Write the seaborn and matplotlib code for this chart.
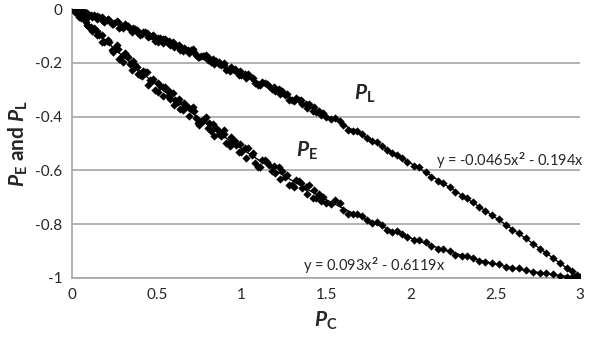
import matplotlib
matplotlib.use("Agg")
import matplotlib.pyplot as plt
import seaborn as sns
import numpy as np
import pandas as pd

# ---- data ----
pl_x = [0.02,0.04,0.06,0.08,0.10,0.13,0.16,0.19,0.22,0.25,0.28,0.31,0.34,0.37,0.40,0.43,0.46,0.49,0.52,0.55,
        0.58,0.61,0.64,0.67,0.70,0.73,0.76,0.79,0.82,0.85,0.88,0.91,0.94,0.97,1.00,1.04,1.08,1.12,1.16,1.20,
        1.24,1.28,1.32,1.36,1.40,1.44,1.48,1.53,1.58,1.63,1.68,1.74,1.80,1.86,1.92,1.98,2.05,2.12,2.19,2.26,
        2.33,2.40,2.48,2.56,2.64,2.72,2.80,2.88,2.95,3.00,
        0.015,0.035,0.055,0.075,0.095,0.115,0.145,0.175,0.205,0.235,0.265,0.295,0.325,0.355,0.385,0.415,0.445,
        0.475,0.505,0.535,0.565,0.595,0.625,0.655,0.685,0.715,0.745,0.775,0.805,0.835,0.865,0.895,0.925,0.955,
        0.985,1.02,1.06,1.10,1.14,1.18,1.22,1.26,1.30,1.34,1.38,1.42,1.46,1.50,1.55,1.60,1.66,1.71,1.77,1.83,
        1.89,1.95,2.02,2.09,2.16,2.23,2.30,2.37,2.44,2.52,2.60,2.68,2.76,2.84,2.92,2.98,
        0.01,0.05,0.09,0.12,0.15,0.18,0.21,0.24,0.27,0.30,0.33,0.36,0.39,0.42,0.45,0.48,0.51,0.54,0.57,0.60,
        0.63,0.66,0.69,0.72,0.75,0.78,0.81,0.84,0.87,0.90,0.93,0.96,0.99,1.03,1.07,1.11,1.15,1.19,1.23,1.27,
        1.31,1.35,1.39,1.43,1.47]
pl_y = [-0.003,-0.011,-0.008,-0.019,-0.026,-0.022,-0.031,-0.047,-0.039,-0.053,-0.069,-0.056,-0.075,-0.075,
        -0.095,-0.085,-0.099,-0.118,-0.108,-0.111,-0.134,-0.135,-0.152,-0.147,-0.151,-0.171,-0.176,-0.170,
        -0.197,-0.194,-0.210,-0.225,-0.215,-0.232,-0.247,-0.243,-0.275,-0.272,-0.286,-0.305,-0.304,-0.337,
        -0.331,-0.353,-0.352,-0.383,-0.388,-0.410,-0.417,-0.448,-0.454,-0.480,-0.495,-0.526,-0.541,-0.567,
        -0.589,-0.623,-0.646,-0.680,-0.702,-0.735,-0.765,-0.804,-0.834,-0.873,-0.906,-0.946,-0.976,-0.996,
        -0.005,-0.004,-0.012,-0.011,-0.023,-0.021,-0.038,-0.031,-0.041,-0.055,-0.044,-0.063,-0.062,-0.085,
        -0.079,-0.094,-0.088,-0.102,-0.122,-0.111,-0.128,-0.123,-0.139,-0.155,-0.151,-0.150,-0.179,-0.176,
        -0.191,-0.187,-0.205,-0.201,-0.225,-0.225,-0.245,-0.241,-0.257,-0.282,-0.275,-0.298,-0.297,-0.319,
        -0.339,-0.339,-0.354,-0.379,-0.379,-0.401,-0.405,-0.432,-0.452,-0.465,-0.492,-0.509,-0.537,-0.553,
        -0.583,-0.606,-0.638,-0.663,-0.694,-0.719,-0.751,-0.782,-0.820,-0.853,-0.892,-0.925,-0.964,-0.990,
        -0.001,-0.014,-0.015,-0.030,-0.025,-0.041,-0.036,-0.057,-0.050,-0.069,-0.064,-0.071,-0.091,-0.085,
        -0.105,-0.098,-0.107,-0.126,-0.120,-0.141,-0.135,-0.144,-0.164,-0.158,-0.180,-0.174,-0.183,-0.204,
        -0.198,-0.207,-0.229,-0.223,-0.232,-0.258,-0.255,-0.281,-0.278,-0.291,-0.317,-0.315,-0.343,-0.340,
        -0.368,-0.366,-0.393]
pe_x = list(pl_x)
pe_y = [-0.011,-0.028,-0.030,-0.050,-0.068,-0.072,-0.095,-0.124,-0.121,-0.149,-0.186,-0.164,-0.204,-0.209,
        -0.246,-0.234,-0.263,-0.302,-0.285,-0.289,-0.335,-0.337,-0.371,-0.362,-0.370,-0.405,-0.415,-0.402,
        -0.453,-0.443,-0.472,-0.499,-0.477,-0.506,-0.531,-0.518,-0.572,-0.562,-0.581,-0.610,-0.602,-0.654,
        -0.635,-0.665,-0.654,-0.701,-0.700,-0.726,-0.723,-0.764,-0.762,-0.786,-0.792,-0.823,-0.827,-0.849,
        -0.858,-0.883,-0.891,-0.913,-0.917,-0.936,-0.944,-0.961,-0.964,-0.978,-0.982,-0.994,-0.995,-1.000,
        -0.011,-0.017,-0.034,-0.039,-0.062,-0.065,-0.097,-0.097,-0.120,-0.151,-0.132,-0.176,-0.176,-0.228,
        -0.215,-0.248,-0.236,-0.268,-0.310,-0.289,-0.323,-0.311,-0.347,-0.377,-0.366,-0.364,-0.422,-0.415,
        -0.443,-0.429,-0.465,-0.451,-0.499,-0.493,-0.533,-0.516,-0.543,-0.587,-0.563,-0.601,-0.589,-0.625,
        -0.655,-0.641,-0.662,-0.704,-0.688,-0.720,-0.709,-0.747,-0.763,-0.768,-0.797,-0.804,-0.831,-0.837,
        -0.859,-0.868,-0.892,-0.900,-0.918,-0.924,-0.941,-0.948,-0.963,-0.970,-0.983,-0.987,-0.996,-0.997,
        -0.004,-0.026,-0.060,-0.082,-0.081,-0.121,-0.115,-0.160,-0.150,-0.197,-0.180,-0.193,-0.241,-0.229,
        -0.281,-0.262,-0.276,-0.324,-0.306,-0.357,-0.336,-0.351,-0.399,-0.381,-0.430,-0.409,-0.422,-0.471,
        -0.452,-0.463,-0.511,-0.490,-0.502,-0.553,-0.536,-0.586,-0.568,-0.584,-0.633,-0.616,-0.661,-0.646,
        -0.689,-0.673,-0.714]

# trendline coefficients shown on the chart (a*x^2 + b*x)
pl_coef = [-0.0465, -0.194]
pe_coef = [0.093, -0.6119]

x_ticks = [0, 0.5, 1, 1.5, 2, 2.5, 3]
x_tick_labels = ["0", "0.5", "1", "1.5", "2", "2.5", "3"]
y_ticks = [0, -0.2, -0.4, -0.6, -0.8, -1]
y_tick_labels = ["0", "-0.2", "-0.4", "-0.6", "-0.8", "-1"]

# ---- style ----
sns.set_style("white")
plt.rcParams["font.family"] = ["Lato", "DejaVu Sans"]
plt.rcParams["mathtext.fontset"] = "custom"
plt.rcParams["mathtext.it"] = "Lato:italic:bold"
plt.rcParams["mathtext.rm"] = "Lato:bold"
plt.rcParams["mathtext.bf"] = "Lato:bold"

fig = plt.figure(figsize=(6.0, 3.47), dpi=100)
ax = fig.add_axes([0.12, 0.199, 0.847, 0.775])

df = pd.concat([
    pd.DataFrame({"x": pl_x, "y": pl_y, "s": "PL"}),
    pd.DataFrame({"x": pe_x, "y": pe_y, "s": "PE"}),
])

gray = "#a6a6a6"
for yt in y_ticks[1:]:
    ax.axhline(yt, color=gray, lw=1.2, zorder=0)

sns.scatterplot(data=df, x="x", y="y", marker="D", color="black", s=15,
                edgecolor="black", linewidth=0.3, legend=False, ax=ax, zorder=3)

xx = np.linspace(0, 3, 200)
ax.plot(xx, pl_coef[0] * xx**2 + pl_coef[1] * xx, color="black", lw=1.0, zorder=4)
ax.plot(xx, pe_coef[0] * xx**2 + pe_coef[1] * xx, color="black", lw=1.0, zorder=4)

ax.set_xlim(0, 3)
ax.set_ylim(-1, 0)
ax.set_xticks(x_ticks)
ax.set_xticklabels(x_tick_labels, fontsize=11)
ax.set_yticks(y_ticks)
ax.set_yticklabels(y_tick_labels, fontsize=11)
ax.tick_params(axis="both", direction="out", length=4, width=1, color=gray, pad=3)
for side in ["top", "right"]:
    ax.spines[side].set_visible(False)
for side in ["left", "bottom"]:
    ax.spines[side].set_color(gray)
    ax.spines[side].set_linewidth(1.2)

ax.set_xlabel(r"$P_{\mathrm{C}}$", fontsize=15, labelpad=6)
ax.set_ylabel(r"$P_{\mathrm{E}}$ and $P_{\mathrm{L}}$", fontsize=15, fontweight="bold", labelpad=4)

ax.text(1.73, -0.315, r"$P_{\mathrm{L}}$", fontsize=15, ha="center", va="center")
ax.text(1.385, -0.526, r"$P_{\mathrm{E}}$", fontsize=15, ha="center", va="center")
ax.text(3.02, -0.563, r"y = -0.0465x$^2$ - 0.194x", fontsize=10.5, ha="right", va="center")
ax.text(1.785, -0.955, r"y = 0.093x$^2$ - 0.6119x", fontsize=10.5, ha="center", va="center")

fig.savefig("out.png", dpi=100)
